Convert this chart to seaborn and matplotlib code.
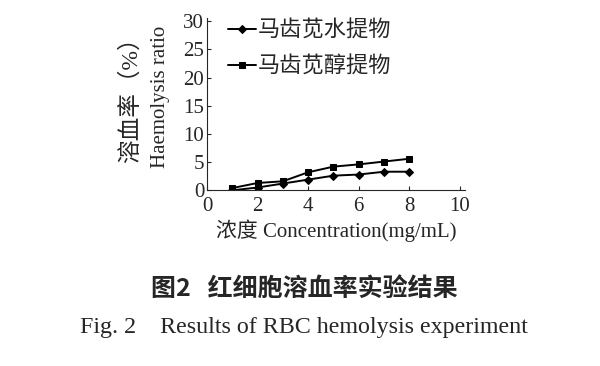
import numpy as np
import pandas as pd
import matplotlib
matplotlib.use('Agg')
import matplotlib.pyplot as plt
import seaborn as sns

conc = [1, 2, 3, 4, 5, 6, 7, 8]
water_extract = [0.0, 0.5, 1.2, 1.9, 2.6, 2.8, 3.3, 3.3]
alcohol_extract = [0.4, 1.3, 1.6, 3.2, 4.2, 4.6, 5.1, 5.6]
series_names = ['马齿苋水提物', '马齿苋醇提物']

sns.set_style('ticks')
fonts = ['Liberation Serif', 'Noto Sans CJK SC', 'DejaVu Sans']
plt.rcParams['font.family'] = fonts

df = pd.DataFrame({
    'conc': conc * 2,
    'ratio': water_extract + alcohol_extract,
    'name': [series_names[0]] * len(conc) + [series_names[1]] * len(conc),
})

fig = plt.figure(figsize=(6, 3.66), dpi=100)
ax = fig.add_axes([0.345, 0.48, 0.43, 0.47])
sns.lineplot(data=df, x='conc', y='ratio', hue='name', style='name',
             markers={series_names[0]: 'D', series_names[1]: 's'}, dashes=False,
             palette=['black', 'black'], markersize=4.5, linewidth=1.4,
             markeredgecolor='black', ax=ax)

ax.set_xlim(0, 10.2)
ax.set_ylim(0, 30.5)
ax.set_xticks([0, 2, 4, 6, 8, 10])
ax.set_yticks([0, 5, 10, 15, 20, 25, 30])
ax.tick_params(direction='in', length=3, labelsize=15, width=0.8, pad=2)
ax.tick_params(axis='x', pad=5)
sns.despine(ax=ax)
ax.set_xlabel('浓度 Concentration(mg/mL)', fontsize=15, labelpad=2)
ax.set_ylabel('')
fig.text(0.218, 0.743, '溶血率（%）', rotation=90, fontsize=17, ha='center', va='center')
fig.text(0.267, 0.735, 'Haemolysis ratio', rotation=90, fontsize=15, ha='center', va='center')

leg = ax.legend(loc='upper left', bbox_to_anchor=(0.047, 1.04), frameon=False,
                borderaxespad=0, fontsize=16, handlelength=1.25,
                handletextpad=0.1, labelspacing=0.68)

fig.text(0.507, 0.21, '图2   红细胞溶血率实验结果', ha='center', va='center',
         fontsize=18, fontweight='bold', family=['Noto Sans CJK SC', 'DejaVu Sans'])
fig.text(0.507, 0.104, 'Fig. 2    Results of RBC hemolysis experiment', ha='center',
         va='center', fontsize=17.3, family=['Liberation Serif'])

fig.savefig('out.png', dpi=100, facecolor='white')
